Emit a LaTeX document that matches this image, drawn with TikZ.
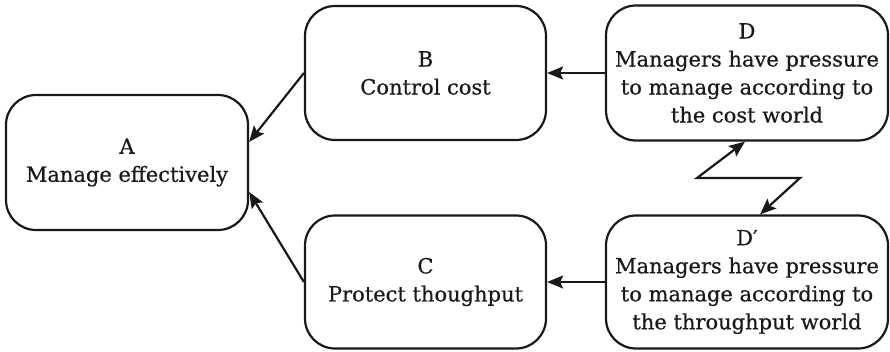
\documentclass[tikz,border=0pt]{standalone}
\usepackage{fontspec}
\setmainfont{DejaVu Serif}[FakeBold=0.5]
\usetikzlibrary{arrows.meta}
\begin{document}
\begin{tikzpicture}[x=1pt, y=-1pt,
  box/.style={draw=black!90, line width=2.2pt, rounded corners=30pt,
    align=center, inner sep=0pt, font=\fontsize{21}{28}\selectfont,
    text=black!90},
  link/.style={line width=2.2pt, draw=black!90,
    -{Stealth[length=16pt, width=13pt, inset=3pt]}},
  zigzag/.style={line width=2.2pt, draw=black!90,
    {Stealth[length=16pt, width=13pt, inset=3pt]}-{Stealth[length=16pt, width=13pt, inset=3pt]}}]
  \useasboundingbox (0,0) rectangle (890,351);

  \node[box, minimum width=242pt, minimum height=135pt] (A) at (127,162.5)
    {A\\Manage effectively};
  \node[box, minimum width=241pt, minimum height=134pt] (B) at (425.5,73)
    {B\\Control cost};
  \node[box, minimum width=241pt, minimum height=133pt] (C) at (425.5,282)
    {C\\Protect thoughput};
  \node[box, minimum width=282pt, minimum height=135pt] (D) at (747,73)
    {D\\Managers have pressure\\to manage according to\\the cost world};
  \node[box, minimum width=282pt, minimum height=133pt] (Dp) at (747,282)
    {D′\\Managers have pressure\\to manage according to\\the throughput world};

  % conflict arrows into the common objective
  \draw[link] (D.west) -- (B.east);
  \draw[link] (Dp.west) -- (C.east);
  \draw[link] (B.west) -- ([yshift=20.5pt]A.east);
  \draw[link] (C.west) -- ([yshift=-29.5pt]A.east);

  % lightning bolt between the two conflicting prerequisites
  \coordinate (z1) at (697,178);
  \coordinate (z2) at (800,178);
  \draw[zigzag] ([xshift=-2pt]D.south) -- (z1) -- (z2) -- ([xshift=13pt]Dp.north);
\end{tikzpicture}
\end{document}
